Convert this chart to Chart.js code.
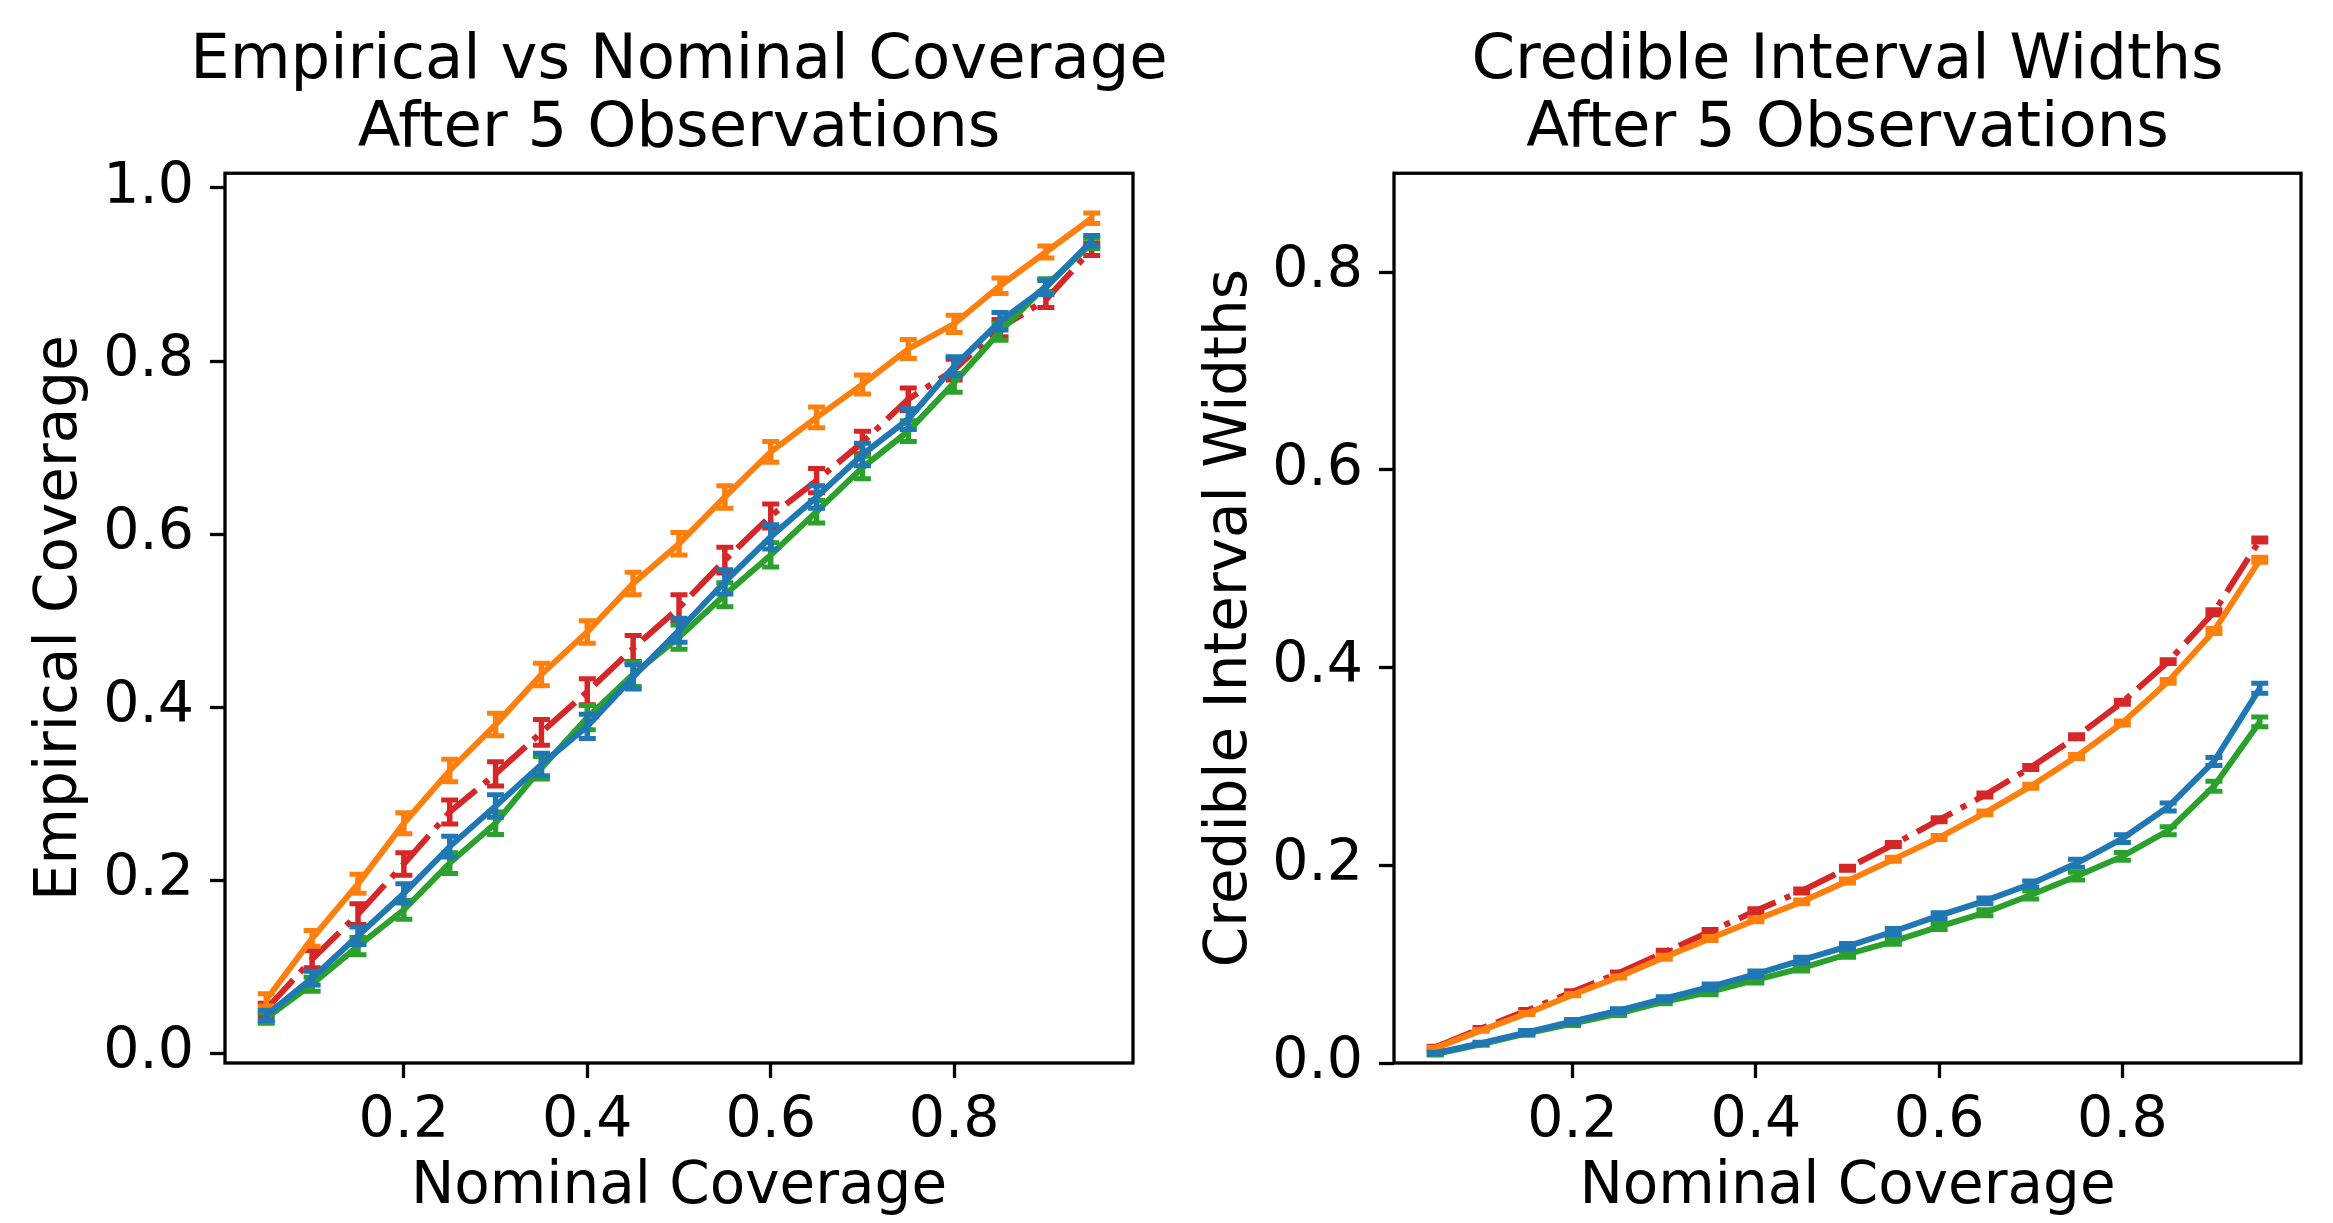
<!DOCTYPE html>
<html>
<head>
<meta charset="utf-8">
<script src="https://cdn.jsdelivr.net/npm/chart.js@4.4.1/dist/chart.umd.min.js"></script>
<style>
  html, body { margin: 0; padding: 0; background: #fff; overflow: hidden; }
  #wrap { position: relative; width: 2333px; height: 1223px; overflow: hidden; }
  canvas { position: absolute; top: 0; }
  #left { left: 0; }
  #right { left: 1167px; }
</style>
</head>
<body>
<div id="wrap">
  <!-- canvases overlap so that each title is centred over its own plot -->
  <canvas id="left" width="1358" height="1223"></canvas>
  <canvas id="right" width="1361" height="1223"></canvas>
</div>
<script>
const nominal = [0.05, 0.10, 0.15, 0.20, 0.25, 0.30, 0.35, 0.40, 0.45, 0.50,
                 0.55, 0.60, 0.65, 0.70, 0.75, 0.80, 0.85, 0.90, 0.95];
const xTicks = [0.2, 0.4, 0.6, 0.8];

// left panel: empirical coverage
const covBlue   = [0.044, 0.087, 0.136, 0.185, 0.239, 0.286, 0.334, 0.378, 0.435, 0.489,
                   0.545, 0.597, 0.643, 0.692, 0.733, 0.794, 0.846, 0.885, 0.939];
const covOrange = [0.062, 0.133, 0.196, 0.266, 0.327, 0.380, 0.438, 0.487, 0.543, 0.589,
                   0.643, 0.695, 0.735, 0.773, 0.814, 0.843, 0.887, 0.926, 0.965];
const covGreen  = [0.041, 0.080, 0.124, 0.166, 0.220, 0.266, 0.330, 0.388, 0.438, 0.481,
                   0.530, 0.576, 0.626, 0.677, 0.719, 0.775, 0.834, 0.887, 0.936];
const covRed    = [0.051, 0.109, 0.161, 0.219, 0.279, 0.323, 0.371, 0.418, 0.468, 0.515,
                   0.570, 0.621, 0.662, 0.706, 0.756, 0.790, 0.838, 0.871, 0.929];
const covErrBlue   = [0.006, 0.008, 0.010, 0.011, 0.012, 0.013, 0.013, 0.014, 0.014, 0.014,
                      0.014, 0.014, 0.013, 0.013, 0.012, 0.011, 0.010, 0.008, 0.006];
const covErrOrange = [0.007, 0.009, 0.011, 0.012, 0.013, 0.013, 0.013, 0.013, 0.013, 0.013,
                      0.013, 0.012, 0.012, 0.011, 0.011, 0.010, 0.009, 0.007, 0.006];
const covErrGreen  = [0.006, 0.008, 0.010, 0.011, 0.012, 0.013, 0.013, 0.014, 0.014, 0.014,
                      0.014, 0.014, 0.013, 0.013, 0.012, 0.011, 0.010, 0.008, 0.006];
const covErrRed    = [0.007, 0.010, 0.012, 0.013, 0.014, 0.014, 0.015, 0.015, 0.015, 0.015,
                      0.015, 0.014, 0.014, 0.013, 0.013, 0.012, 0.010, 0.009, 0.007];
const covTicks = [0.0, 0.2, 0.4, 0.6, 0.8, 1.0];

// right panel: credible interval widths
const widBlue   = [0.010, 0.020, 0.031, 0.042, 0.053, 0.065, 0.077, 0.090, 0.104, 0.118,
                   0.133, 0.149, 0.164, 0.181, 0.202, 0.227, 0.259, 0.305, 0.379];
const widOrange = [0.015, 0.033, 0.050, 0.069, 0.087, 0.107, 0.126, 0.145, 0.163, 0.184,
                   0.206, 0.228, 0.253, 0.280, 0.310, 0.344, 0.386, 0.437, 0.509];
const widGreen  = [0.009, 0.019, 0.030, 0.040, 0.050, 0.062, 0.072, 0.084, 0.096, 0.110,
                   0.123, 0.138, 0.152, 0.170, 0.189, 0.209, 0.235, 0.280, 0.345];
const widRed    = [0.016, 0.035, 0.053, 0.072, 0.091, 0.112, 0.133, 0.154, 0.174, 0.197,
                   0.221, 0.246, 0.271, 0.299, 0.330, 0.365, 0.406, 0.456, 0.529];
const widErrBlue   = [0.001, 0.001, 0.002, 0.002, 0.002, 0.002, 0.003, 0.003, 0.003, 0.003,
                      0.003, 0.003, 0.003, 0.003, 0.004, 0.004, 0.004, 0.004, 0.005];
const widErrOrange = [0.001, 0.001, 0.001, 0.001, 0.001, 0.002, 0.002, 0.002, 0.002, 0.002,
                      0.002, 0.002, 0.002, 0.002, 0.002, 0.002, 0.002, 0.0025, 0.0025];
const widErrGreen  = [0.001, 0.001, 0.002, 0.002, 0.002, 0.002, 0.003, 0.003, 0.003, 0.003,
                      0.003, 0.003, 0.003, 0.004, 0.004, 0.004, 0.004, 0.005, 0.005];
const widErrRed    = [0.001, 0.001, 0.001, 0.001, 0.001, 0.002, 0.002, 0.002, 0.002, 0.002,
                      0.002, 0.002, 0.002, 0.002, 0.002, 0.002, 0.002, 0.0025, 0.002];
const widTicks = [0.0, 0.2, 0.4, 0.6, 0.8];

const colors = {
  blue: "#1f77b4",
  orange: "#ff7f0e",
  green: "#2ca02c",
  red: "#d62728",
};

Chart.defaults.font.family = "'DejaVu Sans'";
Chart.defaults.color = "#000";

// draws the error bars right after each line, so the stacking matches
const errorBars = {
  id: "errorBars",
  afterDatasetDraw: (chart, args) => {
    const ds = chart.data.datasets[args.index];
    if (!ds.errors) return;
    const { ctx } = chart;
    const x = chart.scales.x, y = chart.scales.y;
    ctx.save();
    ctx.strokeStyle = ds.borderColor;
    ctx.setLineDash([]);
    ds.data.forEach((p, i) => {
      const px = x.getPixelForValue(p.x);
      const top = y.getPixelForValue(p.y + ds.errors[i]);
      const bot = y.getPixelForValue(p.y - ds.errors[i]);
      ctx.lineWidth = 5.5;
      ctx.beginPath();
      ctx.moveTo(px, top);
      ctx.lineTo(px, bot);
      ctx.stroke();
      ctx.lineWidth = 5;
      ctx.beginPath();
      ctx.moveTo(px - 8.5, top);
      ctx.lineTo(px + 8.5, top);
      ctx.moveTo(px - 8.5, bot);
      ctx.lineTo(px + 8.5, bot);
      ctx.stroke();
    });
    ctx.restore();
  },
};

// box around the plot area (all four spines)
const frame = {
  id: "frame",
  afterDraw: (chart) => {
    const { ctx, chartArea: a } = chart;
    ctx.save();
    ctx.strokeStyle = "#000";
    ctx.lineWidth = 3.3;
    ctx.strokeRect(a.left, a.top, a.right - a.left, a.bottom - a.top);
    ctx.restore();
  },
};

function series(values, errors, color, dash) {
  return {
    data: nominal.map((x, i) => ({ x: x, y: values[i] })),
    errors: errors,
    borderColor: color,
    backgroundColor: color,
    borderWidth: 6,
    borderDash: dash || [],
    pointRadius: 0,
    tension: 0,
    fill: false,
  };
}

function makeConfig(o) {
  return {
    type: "line",
    data: { datasets: o.datasets },
    plugins: [errorBars, frame],
    options: {
      responsive: false,
      animation: false,
      events: [],
      layout: { padding: 0 },
      plugins: {
        legend: { display: false },
        tooltip: { enabled: false },
        title: {
          display: true,
          text: o.title,
          color: "#000",
          font: { size: 62.5, weight: "normal", lineHeight: 1.09 },
          padding: { top: 28, bottom: 9 },
        },
      },
      scales: {
        x: {
          type: "linear",
          min: 0.005,
          max: 0.995,
          afterBuildTicks: (s) => { s.ticks = xTicks.map((v) => ({ value: v })); },
          afterFit: (s) => { s.height = 160; },
          border: { display: false },
          grid: { drawOnChartArea: false, tickLength: 15, tickWidth: 3.3, color: "#000" },
          ticks: {
            font: { size: 57 },
            padding: 10,
            maxRotation: 0,
            autoSkip: false,
            callback: (v) => v.toFixed(1),
          },
          title: {
            display: true,
            text: "Nominal Coverage",
            font: { size: 58 },
            padding: { top: 0, bottom: 0 },
          },
        },
        y: {
          type: "linear",
          min: o.yMin,
          max: o.yMax,
          afterBuildTicks: (s) => { s.ticks = o.yTicks.map((v) => ({ value: v })); },
          afterFit: (s) => { s.width = o.yWidth; },
          border: { display: false },
          grid: { drawOnChartArea: false, tickLength: 15, tickWidth: 3.3, color: "#000" },
          ticks: {
            font: { size: 57 },
            padding: 16,
            autoSkip: false,
            callback: (v) => v.toFixed(1),
          },
          title: {
            display: true,
            text: o.yLabel,
            font: { size: 58 },
            padding: { top: o.yTitlePad, bottom: 0 },
          },
        },
        // empty right-hand axis, only reserves room so the title sits over the plot
        spacer: {
          type: "linear",
          position: "right",
          afterFit: (s) => { s.width = o.yWidth; },
          border: { display: false },
          grid: { display: false },
          ticks: { display: false },
        },
      },
    },
  };
}

new Chart(document.getElementById("left"), makeConfig({
  title: ["Empirical vs Nominal Coverage", "After 5 Observations"],
  yLabel: "Empirical Coverage",
  yMin: -0.011,
  yMax: 1.017,
  yTicks: covTicks,
  yWidth: 225,
  yTitlePad: 26,
  datasets: [
    series(covBlue, covErrBlue, colors.blue),
    series(covOrange, covErrOrange, colors.orange),
    series(covGreen, covErrGreen, colors.green),
    series(covRed, covErrRed, colors.red, [40, 10, 6, 10]),
  ],
}));

new Chart(document.getElementById("right"), makeConfig({
  title: ["Credible Interval Widths", "After 5 Observations"],
  yLabel: "Credible Interval Widths",
  yMin: 0,
  yMax: 0.9,
  yTicks: widTicks,
  yWidth: 227,
  yTitlePad: 29,
  datasets: [
    series(widBlue, widErrBlue, colors.blue),
    series(widOrange, widErrOrange, colors.orange),
    series(widGreen, widErrGreen, colors.green),
    series(widRed, widErrRed, colors.red, [40, 10, 6, 10]),
  ],
}));
</script>
</body>
</html>
